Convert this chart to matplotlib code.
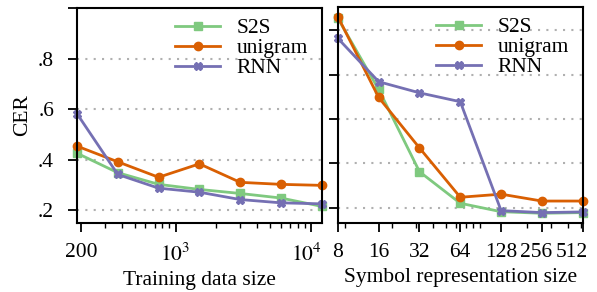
import matplotlib
matplotlib.use('Agg')
import matplotlib.pyplot as plt
from matplotlib.ticker import FuncFormatter, NullFormatter
from matplotlib.transforms import ScaledTranslation

plt.rcParams['font.family'] = 'serif'
plt.rcParams['font.serif'] = ['Liberation Serif', 'DejaVu Serif']
plt.rcParams['mathtext.fontset'] = 'stix'
plt.rcParams['font.size'] = 15.5

# left panel: training data size
train_sizes = [187.5, 375, 750, 1500, 3000, 6000, 12000]
train_s2s = [0.426, 0.349, 0.303, 0.283, 0.267, 0.249, 0.216]
train_unigram = [0.454, 0.392, 0.331, 0.384, 0.311, 0.303, 0.299]
train_rnn = [0.582, 0.342, 0.288, 0.272, 0.243, 0.230, 0.226]

# right panel: symbol representation size
sym_sizes = [8, 16, 32, 64, 128, 256, 512]
sym_s2s = [1.053, 0.733, 0.363, 0.221, 0.183, 0.176, 0.179]
sym_unigram = [1.060, 0.697, 0.470, 0.248, 0.262, 0.231, 0.231]
sym_rnn = [0.963, 0.768, 0.718, 0.678, 0.188, 0.179, 0.182]

series_names = ['S2S', 'unigram', 'RNN']
colors = ['#7fc97f', '#d95f02', '#7570b3']
markers = ['s', 'o', 'X']

fig = plt.figure(figsize=(5.97, 2.92), dpi=100)
ax1 = fig.add_axes([0.129, 0.236, 0.410, 0.737])
ax2 = fig.add_axes([0.566, 0.236, 0.410, 0.740])


def style(ax):
    ax.set_xscale('log')
    ax.grid(axis='y', linestyle=(0, (1, 3)), color='#b0b0b0', linewidth=1.5)
    ax.set_axisbelow(True)
    for s in ax.spines.values():
        s.set_linewidth(1.5)
    ax.tick_params(which='major', direction='out', length=6.5, width=1.3)
    ax.tick_params(which='minor', direction='out', length=3.5, width=1.0)
    ax.tick_params(axis='x', which='major', pad=8)
    ax.tick_params(axis='y', which='major', pad=10)
    ax.xaxis.set_minor_formatter(NullFormatter())
    ax.legend(frameon=False, loc='upper right', bbox_to_anchor=(1, 1.018),
              handlelength=2.1, handletextpad=0.75, labelspacing=0.0,
              borderaxespad=0.65, borderpad=0)


def nudge(label, dx_px):
    label.set_transform(label.get_transform() + ScaledTranslation(dx_px / 100, 0, fig.dpi_scale_trans))


for ys, name, c, m in zip([train_s2s, train_unigram, train_rnn], series_names, colors, markers):
    ax1.plot(train_sizes, ys, color=c, marker=m, markersize=6, linewidth=2, label=name,
             clip_on=False)
for ys, name, c, m in zip([sym_s2s, sym_unigram, sym_rnn], series_names, colors, markers):
    ax2.plot(sym_sizes, ys, color=c, marker=m, markersize=6, linewidth=2, label=name,
             clip_on=False)

style(ax1)
style(ax2)

ax1.set_xlim(187.5, 12000)
ax1.set_ylim(0.15, 1.0)
ax1.set_xticks([200, 1000, 10000])
ax1.set_xticklabels(['200', '$10^3$', '$10^4$'])
ax1.set_yticks([0.2, 0.4, 0.6, 0.8, 1.0])
ax1.yaxis.set_major_formatter(FuncFormatter(lambda v, p: '' if v > 0.9 else ('%.1f' % v).lstrip('0')))
ax1.set_ylabel('CER', labelpad=4)
ax1.set_xlabel('Training data size', labelpad=4)

ax2.set_xlim(8, 512)
ax2.set_xticks(sym_sizes)
ax2.set_xticklabels([str(s) for s in sym_sizes])
ax2.set_yticks([0.2, 0.4, 0.6, 0.8, 1.0])
ax2.set_yticklabels([])
ax2.set_xlabel('Symbol representation size', labelpad=4)

nudge(ax1.get_xticklabels()[2], -5)
nudge(ax2.get_xticklabels()[5], -6)
nudge(ax2.get_xticklabels()[6], -11)

fig.savefig('out.png', dpi=100, facecolor='white')
